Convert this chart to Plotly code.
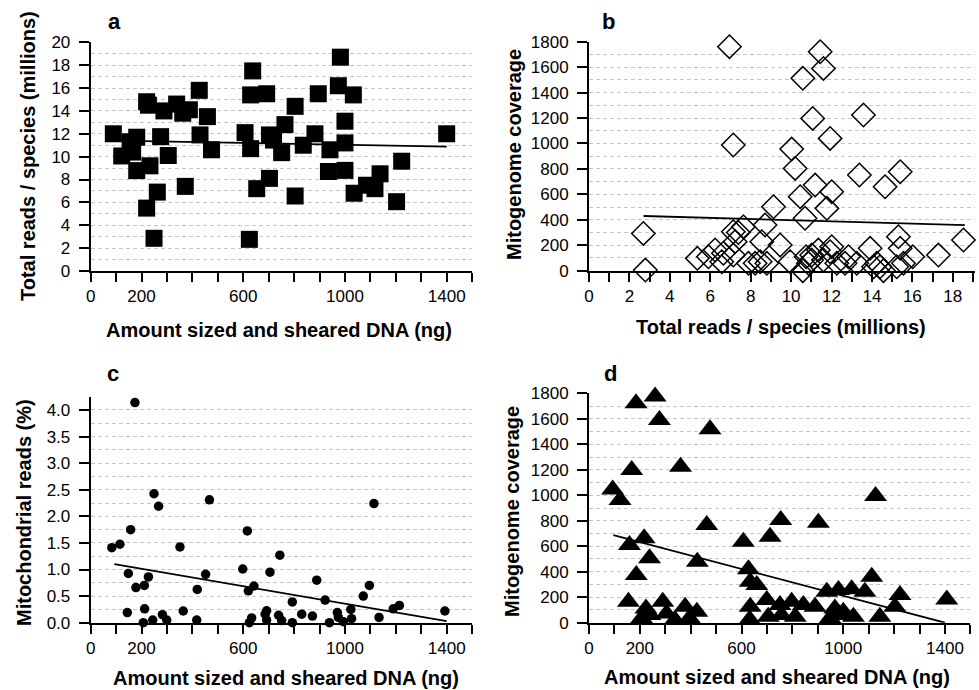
import plotly.graph_objects as go

# ---------- data ----------
# Panel a: DNA amount (ng) vs total reads per species (millions)
a_dna = [89, 122, 165, 155, 181, 181, 220, 227, 233, 220, 249, 262, 275, 288, 305, 338, 362, 388,
         372, 427, 430, 459, 475, 607, 629, 637, 629, 624, 653, 692, 703, 703, 719, 764, 751, 804,
         804, 836, 882, 895, 941, 935, 982, 974, 1000, 1000, 1000, 1033, 1036, 1085, 1118, 1138,
         1223, 1203, 1400]
a_reads = [12.0, 10.06, 10.4, 11.3, 11.7, 8.78, 14.8, 14.5, 9.2, 5.5, 2.86, 6.9, 11.75, 14.0, 10.1,
           14.6, 13.8, 14.1, 7.4, 15.8, 11.9, 13.5, 10.6, 12.1, 10.7, 17.5, 15.4, 2.77, 7.2, 15.5,
           8.1, 11.9, 11.45, 12.8, 10.35, 14.4, 6.56, 11.0, 12.0, 15.5, 10.6, 8.7, 18.7, 16.2, 11.2,
           13.1, 8.8, 15.4, 6.8, 7.5, 7.2, 8.5, 9.6, 6.06, 12.0]
a_trend_x = [96, 1400]
a_trend_y = [11.4, 10.87]

# Panel b: total reads (millions) vs mitogenome coverage
b_reads = [6.95, 7.14, 2.69, 2.79, 5.36, 5.91, 6.24, 6.57, 6.65, 7.14, 7.23, 7.14, 7.64, 7.39, 7.89,
           8.22, 8.47, 8.55, 8.8, 8.71, 9.13, 9.46, 9.95, 10.03, 10.2, 10.45, 10.58, 10.69, 10.58,
           10.74, 10.86, 11.02, 11.07, 11.02, 11.19, 11.35, 11.44, 11.6, 11.6, 11.77, 11.93, 12.01,
           11.93, 12.01, 12.26, 12.67, 12.84, 13.25, 13.38, 13.58, 13.91, 14.08, 14.24, 14.4, 14.57,
           14.65, 15.23, 15.31, 15.4, 15.4, 15.56, 16.02, 17.29, 18.53]
b_cov = [1761, 988, 293, 5, 97, 110, 163, 71, 137, 306, 228, 123, 346, 300, 58,
         58, 71, 228, 58, 359, 503, 202, 71, 956, 804, 582, 1512, 412, 0,
         110, 58, 84, 1197, 123, 673, 162, 1721, 1590, 84, 490, 149, 189,
         1040, 621, 58, 58, 110, 58, 752, 1224, 176, 31, 58, 31, 0,
         660, 31, 267, 778, 176, 58, 110, 123, 241]
b_trend_x = [2.7, 18.6]
b_trend_y = [430, 359]

# Panel c: DNA amount (ng) vs mitochondrial reads (%)
c_dna = [174, 83, 115, 157, 148, 178, 144, 211, 227, 212, 207, 244, 249, 267, 282, 299, 332, 351,
         364, 384, 417, 419, 452, 467, 598, 616, 620, 642, 624, 633, 686, 692, 692, 705, 739, 744,
         751, 793, 793, 830, 872, 889, 922, 939, 970, 974, 994, 1023, 1026, 1072, 1096, 1114,
         1134, 1190, 1214, 1393]
c_mito = [4.14, 1.41, 1.475, 1.75, 0.925, 0.66, 0.19, 0.70, 0.86, 0.26, 0.0, 0.05, 2.425, 2.19,
          0.15, 0.05, -0.04, 1.425, 0.22, -0.04, 0.05, 0.625, 0.91, 2.31, 1.01, 1.725, 0.6, 0.69,
          0.0, 0.09, 0.16, 0.225, 0.05, 0.95, 0.14, 1.27, 0.04, 0.39, 0.0, 0.16, 0.125, 0.80,
          0.425, 0.0, 0.19, 0.10, 0.02, 0.25, 0.075, 0.5, 0.7, 2.24, 0.1, 0.26, 0.325, 0.22]
c_trend_x = [93, 1400]
c_trend_y = [1.1, 0.03]

# Panel d: DNA amount (ng) vs mitogenome coverage
d_dna = [185, 260, 277, 476, 360, 168, 93, 122, 1127, 463, 754, 902, 712, 607, 217, 159, 238, 426,
         186, 627, 634, 660, 1112, 935, 981, 1033, 1085, 1223, 1407, 155, 224, 240, 207, 290, 305,
         338, 378, 395, 424, 634, 632, 699, 705, 751, 757, 797, 811, 843, 889, 948, 967, 1000,
         1040, 1144, 1203, 987]
d_cov = [1721, 1774, 1590, 1517, 1224, 1198, 1046, 963, 994, 766, 806, 785, 675, 636, 662, 610,
         505, 479, 374, 419, 322, 296, 361, 243, 256, 262, 243, 217, 183, 165, 112, 60, 34, 165,
         73, 21, 126, 34, 86, 126, 26, 178, 47, 139, 60, 165, 47, 139, 126, 34, 112, 86, 47, 47,
         126, 60]
d_trend_x = [96, 1400]
d_trend_y = [688, 0]

dna_tickvals = list(range(0, 1501, 100))
dna_ticktext = [str(v) if v in (0, 200, 600, 1000, 1400) else "" for v in dna_tickvals]
reads_tickvals = list(range(0, 20))
reads_ticktext = [str(v) if v % 2 == 0 else "" for v in reads_tickvals]

# ---------- figure ----------
W, H = 979, 690
FONT = "Liberation Sans, Arial, sans-serif"
GRID = "#c6c6c6"

fig = go.Figure()

def scatter(x, y, xa, ya, symbol, size, lw=0):
    marker = dict(symbol=symbol, size=size, color="black",
                  line=dict(color="black", width=lw))
    fig.add_trace(go.Scatter(x=x, y=y, mode="markers", marker=marker, xaxis=xa, yaxis=ya,
                             cliponaxis=False, showlegend=False))

def trend(x, y, xa, ya):
    fig.add_trace(go.Scatter(x=x, y=y, mode="lines", line=dict(color="black", width=1.8),
                             xaxis=xa, yaxis=ya, cliponaxis=False, showlegend=False))

scatter(a_dna, a_reads, "x", "y", "square", 17)
trend(a_trend_x, a_trend_y, "x", "y")
scatter(b_reads, b_cov, "x2", "y2", "diamond-open", 18, lw=1.5)
trend(b_trend_x, b_trend_y, "x2", "y2")
scatter(c_dna, c_mito, "x3", "y3", "circle", 9.5)
trend(c_trend_x, c_trend_y, "x3", "y3")
scatter(d_dna, d_cov, "x4", "y4", "triangle-up", 20)
trend(d_trend_x, d_trend_y, "x4", "y4")

def px_x(p):
    return p / W

def px_y(p):
    return 1 - p / H

tickfont = dict(family=FONT, size=17, color="black")

def xaxis(domain, rng, tickvals, ticktext, anchor):
    return dict(domain=domain, range=rng, anchor=anchor, showline=True, linecolor="black",
                linewidth=2, ticks="outside", ticklen=9, tickwidth=1.5, tickcolor="black",
                tickmode="array", tickvals=tickvals, ticktext=ticktext, showgrid=False,
                zeroline=False, tickfont=tickfont, fixedrange=True, automargin=False)

def yaxis(domain, rng, dtick, minor, anchor):
    return dict(domain=domain, range=rng, anchor=anchor, showline=True, linecolor="black",
                linewidth=2, ticks="outside", ticklen=10, tickwidth=1.5, tickcolor="black",
                dtick=dtick, tick0=0, showgrid=True, gridcolor=GRID, gridwidth=1,
                griddash="4px,3px", zeroline=False, tickfont=tickfont, fixedrange=True,
                ticklabelstandoff=5, automargin=False,
                minor=dict(dtick=minor, tick0=0, showgrid=True, gridcolor=GRID, gridwidth=1,
                           griddash="4px,3px", ticks=""))

xl = [px_x(90.7), px_x(472.1)]
xr = [px_x(589), px_x(975)]
xr4 = [px_x(589), px_x(970.4)]
y_top_a = [px_y(271), px_y(42.3)]
y_top_b = [px_y(270.7), px_y(41.7)]
y_bot_c = [px_y(622.7), px_y(396.7)]
y_bot_d = [px_y(622.7), px_y(393.3)]

fig.update_layout(
    width=W, height=H, margin=dict(l=0, r=0, t=0, b=0, pad=0, autoexpand=False),
    paper_bgcolor="white", plot_bgcolor="white",
    font=dict(family=FONT, color="black"),
    xaxis=xaxis(xl, [0, 1500], dna_tickvals, dna_ticktext, "y"),
    yaxis=yaxis(y_top_a, [0, 20], 2, 1, "x"),
    xaxis2=xaxis(xr, [0, 19.1], reads_tickvals, reads_ticktext, "y2"),
    yaxis2=yaxis(y_top_b, [0, 1800], 200, 100, "x2"),
    xaxis3=xaxis(xl, [0, 1500], dna_tickvals, dna_ticktext, "y3"),
    yaxis3=yaxis(y_bot_c, [0, 4.25], 0.5, 0.25, "x3"),
    xaxis4=xaxis(xr4, [0, 1500], dna_tickvals, dna_ticktext, "y4"),
    yaxis4=yaxis(y_bot_d, [0, 1800], 200, 100, "x4"),
)
fig.update_yaxes(tickformat=".1f", selector=dict(anchor="x3"))

title_font = dict(family=FONT, size=20, color="black")
letter_font = dict(family=FONT, size=22, color="black")

def ann(text, x, y, angle=0, font=title_font):
    fig.add_annotation(text=text, x=px_x(x), y=px_y(y), xref="paper", yref="paper",
                       showarrow=False, textangle=angle, font=font,
                       xanchor="center", yanchor="middle")

ann("<b>a</b>", 114, 22, font=letter_font)
ann("<b>b</b>", 608, 22, font=letter_font)
ann("<b>c</b>", 113, 373, font=letter_font)
ann("<b>d</b>", 610, 373, font=letter_font)

ann("<b>Total reads / species (millions)</b>", 28, 156, angle=-90)
ann("<b>Amount sized and sheared DNA (ng)</b>", 279, 330)
ann("<b>Mitogenome coverage</b>", 514, 155, angle=-90)
ann("<b>Total reads / species (millions)</b>", 781, 327)
ann("<b>Mitochondrial reads (%)</b>", 24, 513, angle=-90)
ann("<b>Amount sized and sheared DNA (ng)</b>", 286, 678)
ann("<b>Mitogenome coverage</b>", 512, 512, angle=-90)
ann("<b>Amount sized and sheared DNA (ng)</b>", 777, 677)

fig.write_html("out.html", config={"displayModeBar": False},
               post_script="document.body.style.margin='0';document.body.style.overflow='hidden';")
